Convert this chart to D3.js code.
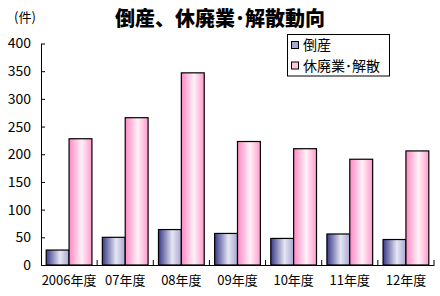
<!DOCTYPE html>
<html><head><meta charset="utf-8">
<script src="https://cdn.jsdelivr.net/npm/d3@7"></script>
<style>body{margin:0;background:#fff}svg{display:block}text{font-family:"Noto Sans CJK JP","Noto Sans",sans-serif}</style>
</head><body>
<script>
const categories = ["2006年度","07年度","08年度","09年度","10年度","11年度","12年度"];
const seriesNames = ["倒産","休廃業･解散"];
const bankruptcy = [27, 50, 64, 57, 48, 56, 46];
const closures = [228, 266, 347, 223, 210, 191, 206];
const yTicks = [0,50,100,150,200,250,300,350,400];

const W = 440, H = 296;
const svg = d3.select("body").append("svg").attr("width", W).attr("height", H);
const defs = svg.append("defs");
const gb = defs.append("linearGradient").attr("id","gBlue").attr("x1","0").attr("x2","1").attr("y1","0").attr("y2","0");
[[0,"#38388a"],[0.6,"#e6e6f3"],[1,"#a6a6d2"]].forEach(s=>gb.append("stop").attr("offset",s[0]).attr("stop-color",s[1]));
const gp = defs.append("linearGradient").attr("id","gPink").attr("x1","0").attr("x2","1").attr("y1","0").attr("y2","0");
[[0,"#ff88c2"],[0.55,"#fff2f8"],[1,"#ff9acb"]].forEach(s=>gp.append("stop").attr("offset",s[0]).attr("stop-color",s[1]));

const x0 = d3.scaleBand().domain(categories).range([41, 434]).padding(0);
const x1 = d3.scaleBand().domain(seriesNames).range([5.2, x0.bandwidth()-5.2]).padding(0);
const y = d3.scaleLinear().domain([0, 400]).range([265, 43.5]);

// title
svg.append("text").attr("x", 115).attr("y", 26).attr("font-size", 20).attr("font-weight", "900")
  .attr("textLength", 210).attr("lengthAdjust","spacingAndGlyphs").text("倒産、休廃業･解散動向");
svg.append("text").attr("x", 14).attr("y", 22).attr("font-size", 13).text("(件)");

// y axis
const ya = svg.append("g").attr("transform","translate(41,0)")
  .call(d3.axisLeft(y).tickValues(yTicks).tickSize(4).tickSizeOuter(0));
ya.select(".domain").attr("stroke","#000");
ya.selectAll(".tick line").attr("stroke","#000").attr("x1",0).attr("x2",4);
ya.selectAll(".tick text").attr("x",-10).attr("font-size",14).attr("fill","#000");

// bars
const data = categories.map((c,i)=>({c, v:[{s:seriesNames[0],v:bankruptcy[i],f:"url(#gBlue)"},{s:seriesNames[1],v:closures[i],f:"url(#gPink)"}]}));
const grp = svg.append("g").selectAll("g").data(data).join("g").attr("transform", d=>`translate(${x0(d.c)},0)`);
grp.selectAll("rect").data(d=>d.v).join("rect")
  .attr("x", d=>x1(d.s)).attr("width", x1.bandwidth())
  .attr("y", d=>y(d.v)).attr("height", d=>y(0)-y(d.v))
  .attr("fill", d=>d.f).attr("stroke","#000").attr("stroke-width",1.2);

// x axis
const xa = svg.append("g").attr("transform","translate(0,265)")
  .call(d3.axisBottom(x0).tickSize(0).tickSizeOuter(0));
xa.select(".domain").attr("stroke","#000");
xa.selectAll(".tick text").attr("y",11).attr("font-size",13).attr("fill","#000");
svg.append("g").selectAll("line").data(categories.slice(1).concat(["end"])).join("line")
  .attr("x1",(d,i)=> i<categories.length-1 ? x0(d) : x0.range()[1])
  .attr("x2",(d,i)=> i<categories.length-1 ? x0(d) : x0.range()[1])
  .attr("y1",265).attr("y2",260).attr("stroke","#000");

// legend
const lg = svg.append("g");
lg.append("rect").attr("x",287.5).attr("y",34.5).attr("width",102).attr("height",41.5).attr("fill","#fff").attr("stroke","#000");
const lfill = ["#a8a8d4","#ffc8e0"];
seriesNames.forEach((s,i)=>{
  const yy = 45 + i*20.5;
  lg.append("rect").attr("x",291.5).attr("y",yy-3.5).attr("width",7).attr("height",7).attr("fill",lfill[i]).attr("stroke","#000");
  lg.append("text").attr("x",303).attr("y",yy+5).attr("font-size",14).text(s);
});
</script>
</body></html>
